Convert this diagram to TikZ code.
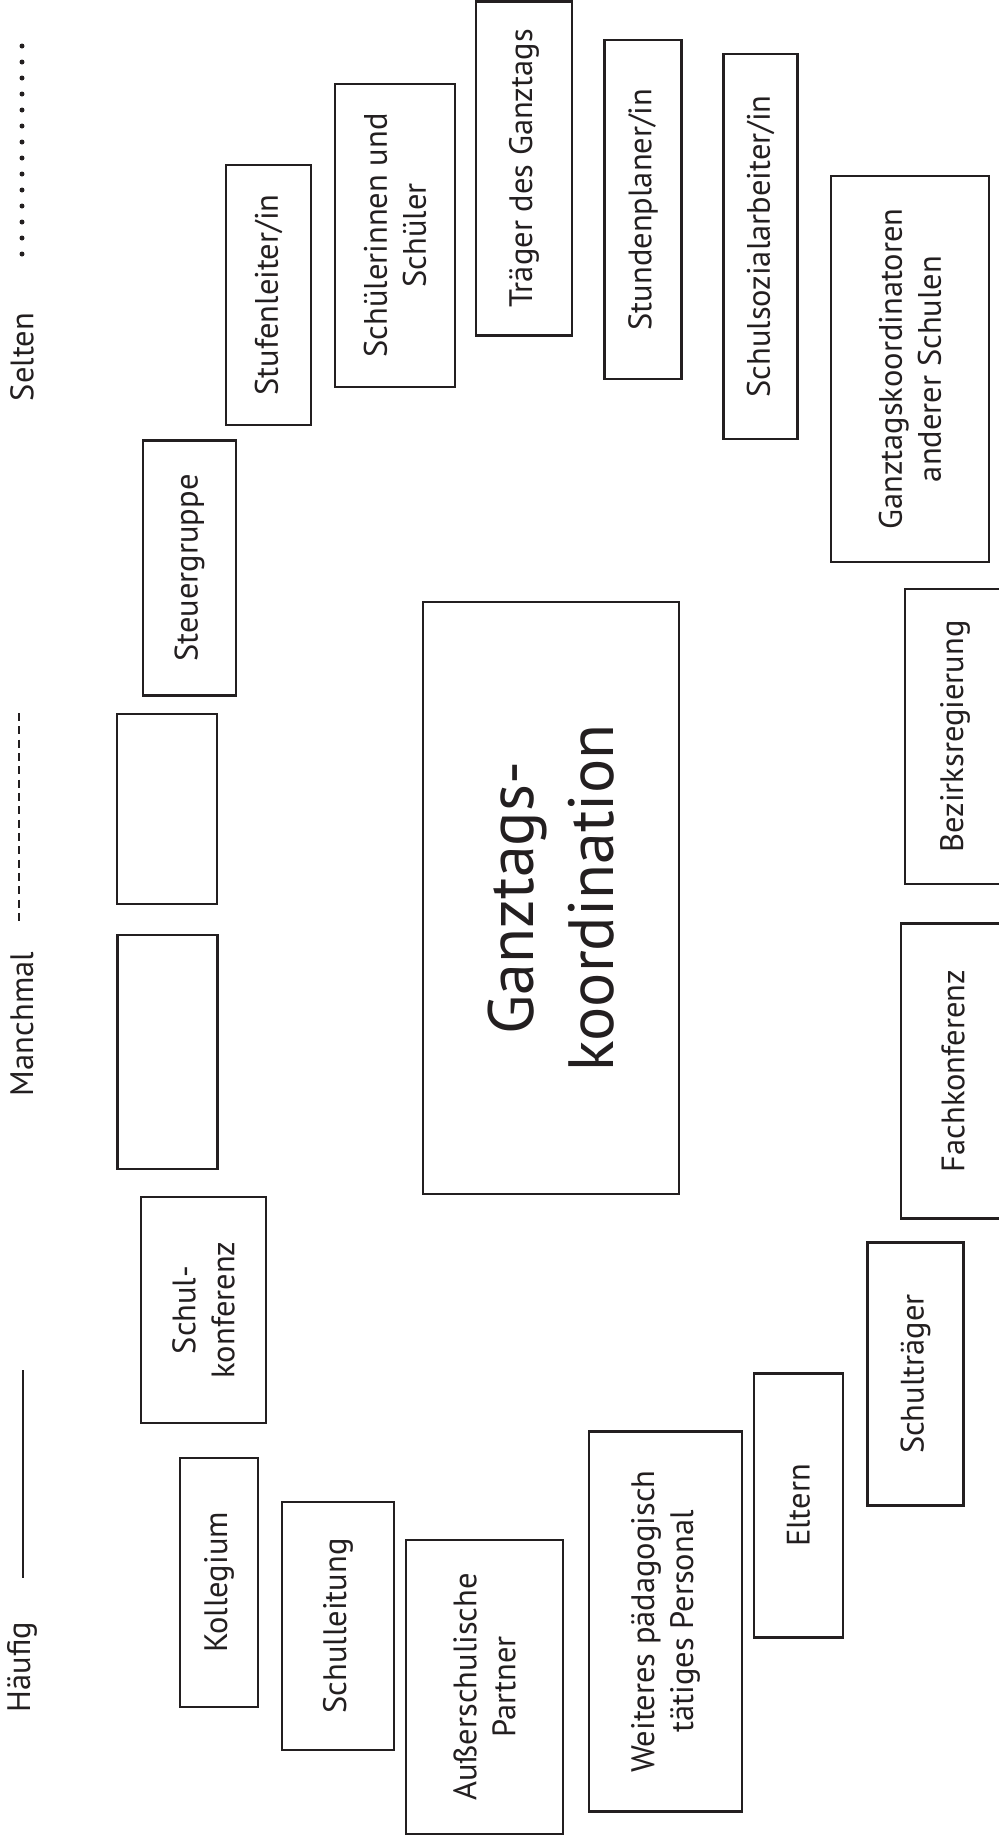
\documentclass[tikz,border=0pt]{standalone}
\usepackage{fontspec}
\setmainfont{PT Sans}
\definecolor{ink}{HTML}{231F20}
\newcommand{\lblfont}{\fontsize{32.5}{39}\selectfont}
\newcommand{\bigfont}{\fontsize{64}{80}\selectfont}
\tikzset{
  box/.style={draw=ink, line width=2.5pt, rotate=90, inner sep=0pt, align=center, text=ink, font=\lblfont},
  legendtext/.style={rotate=90, inner sep=0pt, text=ink, font=\lblfont},
  legendline/.style={draw=ink, line width=2.6pt}
}
\newcommand{\bx}[6]{\node[box, minimum width=#5pt, minimum height=#4pt] (#1) at (#2,#3) {#6};}
\begin{document}
\begin{tikzpicture}[x=1pt,y=-1pt]
\useasboundingbox (0,0) rectangle (999,1840);
% upper arc (selten)
\bx{stufen}{268.5}{295}{85}{260}{Stufenleiter/in}
\bx{schueler}{395}{235.5}{120}{303}{Schülerinnen und\\Schüler}
\bx{traeger}{524}{168.5}{96}{334}{Träger des Ganztags}
\bx{stunden}{643}{209.5}{77}{339}{Stundenplaner/in}
\bx{sozial}{760.5}{246.5}{74}{385}{Schulsozialarbeiter/in}
\bx{gtkand}{910}{369}{158}{386}{Ganztagskoordinatoren\\anderer Schulen}
% middle arc (manchmal)
\bx{steuer}{189.5}{568}{93}{255}{Steuergruppe}
\bx{leerA}{167}{809}{100}{190}{}
\bx{leerB}{167.5}{1052}{100}{234}{}
\bx{bezirk}{955}{736.5}{100}{295}{Bezirksregierung}
\bx{fach}{953}{1071}{104}{295}{Fachkonferenz}
% centre
\node[box, font=\bigfont, minimum width=592pt, minimum height=256pt] (gtk) at (551,898) {Ganztags-\\koordination};
% lower arc (haeufig)
\bx{schulkonf}{203.5}{1310}{125}{226}{Schul-\\konferenz}
\bx{kollegium}{219}{1582.5}{78}{249}{Kollegium}
\bx{schulleitung}{338}{1626}{112}{248}{Schulleitung}
\bx{ausser}{484.5}{1687}{157}{294}{Außerschulische\\Partner}
\bx{weiteres}{665.5}{1621.5}{153}{380}{Weiteres pädagogisch\\tätiges Personal}
\bx{eltern}{798.5}{1505.5}{89}{264}{Eltern}
\bx{schultraeger}{915.5}{1374}{96}{263}{Schulträger}
% legend
\node[legendtext] (selten) at (22,357) {Selten};
\node[legendtext] (manchmal) at (22,1024) {Manchmal};
\node[legendtext] (haeufig) at (22,1667) {Häufig};
\foreach \k in {0,...,13} {
  \fill[ink] (22,{46+16*\k}) circle (2.5pt);
}
\coordinate (dashA) at (19,713);
\coordinate (dashB) at (19,921);
\draw[legendline, dash pattern=on 8pt off 5.33pt] (dashA) -- (dashB);
\coordinate (solidA) at (23,1370);
\coordinate (solidB) at (23,1578);
\draw[legendline] (solidA) -- (solidB);
\end{tikzpicture}
\end{document}
